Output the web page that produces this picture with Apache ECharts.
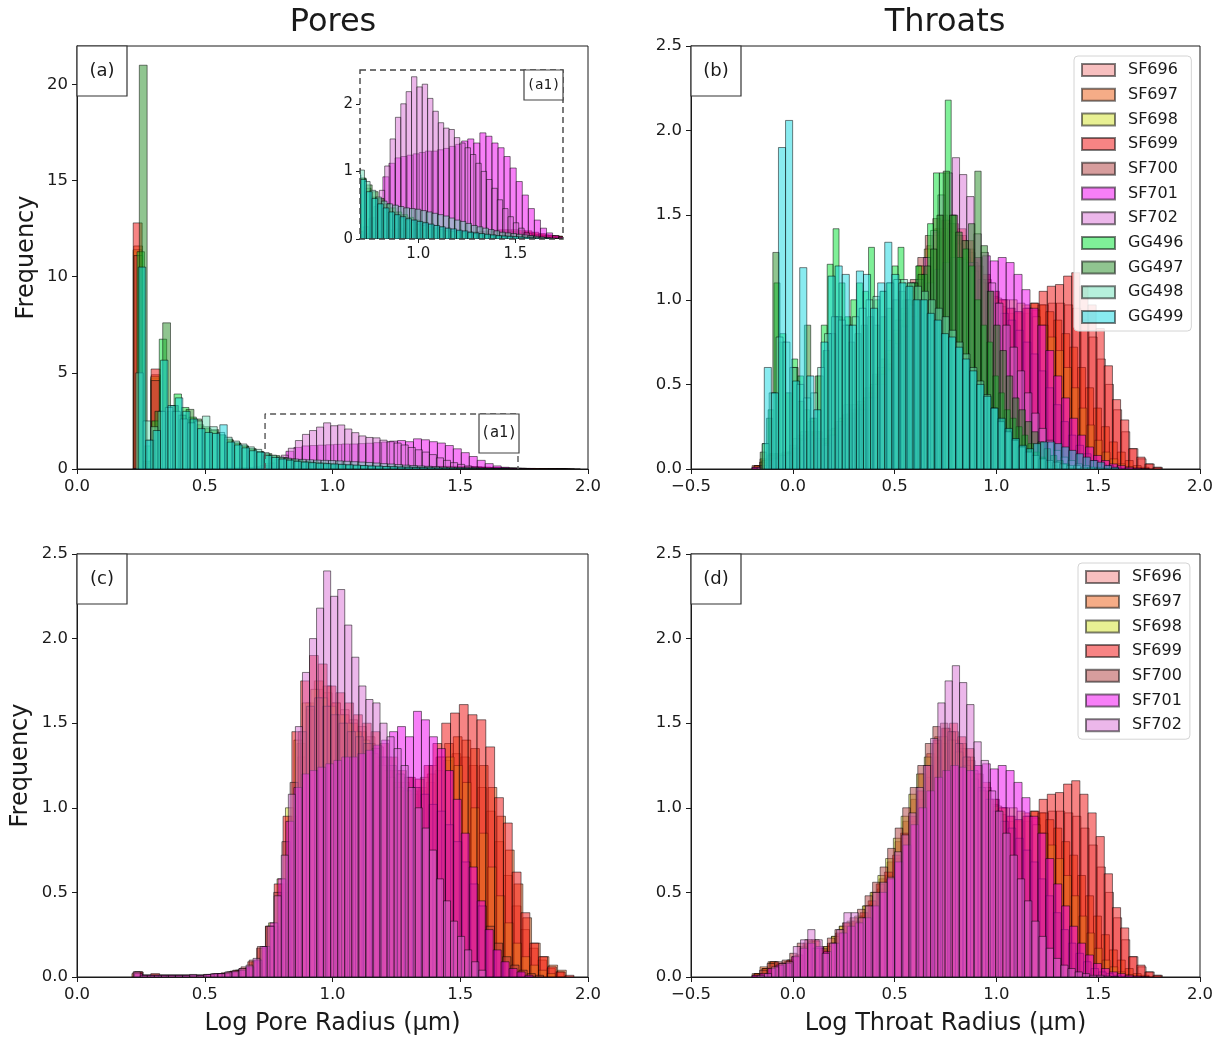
<!DOCTYPE html>
<html>
<head>
<meta charset="utf-8">
<title>Pore and throat radius distributions</title>
<script src="https://cdn.jsdelivr.net/npm/echarts@6/dist/echarts.min.js"></script>
<style>
  html, body { margin: 0; padding: 0; background: #fff; }
  #chart { width: 1225px; height: 1039px; }
</style>
</head>
<body>
<div id="chart"></div>
<script>
// ---------------- sample names ----------------
const sfNames = ['SF696', 'SF697', 'SF698', 'SF699', 'SF700', 'SF701', 'SF702'];
const ggNames = ['GG496', 'GG497', 'GG498', 'GG499'];
const allNames = sfNames.concat(ggNames);

// ---------------- tick labels ----------------
const poreTicks = [0.0, 0.5, 1.0, 1.5, 2.0];
const throatTicks = [-0.5, 0.0, 0.5, 1.0, 1.5, 2.0];
const insetTicks = [1.0, 1.5];

// ---------------- histogram bins (log radius, µm) ----------------
// first bin edge and bin width of each sample histogram
const poreStartSF = [0.225, 0.215, 0.222, 0.22, 0.226, 0.225, 0.22];
const poreWidthSF = [0.0336, 0.034, 0.033, 0.0345, 0.032, 0.0312, 0.0276];
const poreStartA = [0.221, 0.222, 0.22, 0.22, 0.223];          // SF696–SF700, all pores
const poreWidthA = [0.034, 0.0345, 0.0342, 0.035, 0.0338];
const poreStartGG = [0.235, 0.244, 0.23, 0.24];
const poreWidthGG = [0.029, 0.0305, 0.029, 0.029];
const throatStartSF = [-0.185, -0.2, -0.19, -0.19, -0.2, -0.2, -0.175];
const throatWidthSF = [0.04, 0.039, 0.038, 0.04, 0.037, 0.039, 0.0355];
const throatStartGG = [-0.15, -0.16, -0.15, -0.14];
const throatWidthGG = [0.029, 0.031, 0.034, 0.0348];

// ---------------- pore frequencies, all pores (panel a) ----------------
const poreA_SF696 = [11.3,0.4,4.7,0.03,0.02,0.02,0.02,0.02,0.02,0.02, 0.03,0.03,0.04,0.05,0.06,0.07,0.09,0.11,0.12,0.13, 0.14,0.14,0.14,0.13,0.13,0.12,0.12,0.11,0.11,0.1, 0.1,0.1,0.11,0.11,0.12,0.12,0.12,0.11,0.1,0.09, 0.07,0.06,0.05,0.04,0.03,0.02,0.01,0.01,0.005,0.002];
const poreA_SF697 = [11.6,0.4,4.9,0.03,0.02,0.02,0.02,0.02,0.02,0.02, 0.03,0.03,0.04,0.05,0.06,0.08,0.1,0.12,0.14,0.15, 0.15,0.15,0.14,0.14,0.13,0.13,0.12,0.12,0.11,0.11, 0.1,0.1,0.11,0.12,0.12,0.13,0.12,0.12,0.1,0.09, 0.07,0.06,0.05,0.04,0.03,0.02,0.01,0.01,0.005,0.002];
const poreA_SF698 = [11.4,0.3,4.8,0.03,0.02,0.02,0.02,0.02,0.02,0.02, 0.03,0.03,0.04,0.05,0.06,0.08,0.1,0.12,0.13,0.14, 0.15,0.14,0.14,0.13,0.13,0.12,0.12,0.11,0.11,0.1, 0.1,0.1,0.11,0.11,0.12,0.12,0.11,0.1,0.09,0.08, 0.07,0.05,0.04,0.03,0.02,0.02,0.01,0.01,0.005,0.002];
const poreA_SF699 = [12.8,0.3,5.2,0.03,0.02,0.02,0.02,0.02,0.02,0.02, 0.03,0.03,0.04,0.05,0.06,0.07,0.09,0.11,0.13,0.15, 0.16,0.16,0.15,0.15,0.14,0.14,0.13,0.12,0.12,0.11, 0.11,0.11,0.12,0.13,0.14,0.14,0.14,0.13,0.12,0.1, 0.08,0.06,0.05,0.04,0.03,0.02,0.01,0.01,0.005,0.002];
const poreA_SF700 = [11.1,0.4,4.6,0.03,0.02,0.02,0.02,0.02,0.02,0.02, 0.03,0.03,0.04,0.05,0.06,0.07,0.09,0.11,0.13,0.14, 0.14,0.14,0.13,0.13,0.12,0.12,0.11,0.11,0.1,0.1, 0.09,0.09,0.09,0.1,0.1,0.1,0.09,0.08,0.07,0.06, 0.05,0.04,0.03,0.02,0.02,0.01,0.01,0.005,0.002,0.001];
const poreA_GG496 = [11.3,1.2,2.5,6.75,3.0,3.9,3.2,2.7,2.3,2.1, 2.05,1.75,1.5,1.35,1.2,1.05,0.9,0.75,0.62,0.52, 0.45,0.4,0.35,0.31,0.28,0.25,0.22,0.2,0.18,0.16, 0.14,0.12,0.11,0.1,0.09,0.08,0.07,0.06,0.05,0.045, 0.04,0.035,0.03,0.025,0.02,0.018,0.015,0.012,0.01,0.008];
const poreA_GG497 = [21.0,1.5,3.0,7.6,3.3,2.8,3.1,2.6,2.2,2.0, 1.8,1.55,1.35,1.2,1.05,0.9,0.8,0.7,0.6,0.52, 0.46,0.4,0.36,0.32,0.28,0.25,0.22,0.2,0.18,0.16, 0.14,0.12,0.11,0.1,0.09,0.08,0.07,0.06,0.05,0.045, 0.04,0.035,0.03,0.025,0.02,0.018,0.015,0.012,0.01,0.008];
const poreA_GG498 = [5.0,2.5,2.2,3.0,3.2,3.0,2.6,2.4,2.5,2.75, 2.2,1.9,1.65,1.45,1.3,1.15,1.02,0.85,0.72,0.62, 0.56,0.52,0.5,0.48,0.46,0.45,0.44,0.42,0.4,0.38, 0.36,0.34,0.31,0.28,0.26,0.23,0.2,0.18,0.16,0.14, 0.12,0.1,0.09,0.08,0.07,0.06,0.05,0.04,0.03,0.02];
const poreA_GG499 = [10.5,1.5,2.0,5.66,3.3,3.7,3.0,2.6,2.1,1.9, 1.85,2.3,1.4,1.25,1.1,0.95,0.88,0.7,0.6,0.52, 0.46,0.4,0.36,0.33,0.3,0.28,0.26,0.24,0.22,0.2, 0.18,0.16,0.15,0.13,0.12,0.1,0.09,0.08,0.07,0.06, 0.05,0.045,0.04,0.035,0.03,0.025,0.02,0.015,0.012,0.01];

// ---------------- pore frequencies, SF samples (panels a and c) ----------------
const pore_SF696 = [0.03,0.01,0.01,0.01,0.01,0.01,0.01,0.01,0.01,0.015, 0.02,0.03,0.04,0.045,0.08,0.15,0.28,0.5,0.88,1.3, 1.58,1.7,1.68,1.62,1.58,1.52,1.48,1.42,1.36,1.3, 1.22,1.15,1.1,1.1,1.15,1.22,1.28,1.32,1.3,1.25, 1.12,0.98,0.8,0.6,0.42,0.28,0.17,0.1,0.05,0.03];
const pore_SF697 = [0.02,0.01,0.01,0.01,0.01,0.01,0.01,0.01,0.01,0.015, 0.02,0.03,0.04,0.05,0.09,0.16,0.3,0.55,0.95,1.38, 1.62,1.75,1.72,1.62,1.55,1.5,1.45,1.38,1.3,1.22, 1.15,1.1,1.08,1.12,1.2,1.3,1.38,1.42,1.4,1.35, 1.25,1.12,0.95,0.75,0.55,0.35,0.2,0.12,0.07,0.04];
const pore_SF698 = [0.02,0.01,0.01,0.01,0.01,0.01,0.01,0.01,0.01,0.015, 0.02,0.03,0.04,0.05,0.09,0.17,0.32,0.58,1.0,1.4, 1.62,1.7,1.65,1.6,1.55,1.5,1.45,1.4,1.32,1.25, 1.18,1.12,1.1,1.12,1.18,1.25,1.3,1.3,1.25,1.15, 1.0,0.85,0.65,0.48,0.32,0.2,0.12,0.07,0.04,0.02];
const pore_SF699 = [0.03,0.01,0.02,0.01,0.01,0.01,0.01,0.01,0.015,0.02, 0.025,0.035,0.05,0.09,0.17,0.3,0.55,0.95,1.45,1.75, 1.9,1.85,1.72,1.68,1.62,1.55,1.5,1.45,1.38,1.3, 1.22,1.18,1.17,1.25,1.38,1.5,1.56,1.61,1.55,1.52, 1.36,1.06,0.91,0.62,0.38,0.2,0.12,0.06,0.03,0.01];
const pore_SF700 = [0.03,0.01,0.01,0.01,0.01,0.01,0.01,0.01,0.01,0.015, 0.02,0.025,0.04,0.06,0.1,0.18,0.3,0.5,0.8,1.15, 1.45,1.6,1.65,1.6,1.55,1.5,1.45,1.42,1.38,1.35, 1.3,1.25,1.2,1.18,1.12,1.08,1.02,0.98,0.9,0.8, 0.68,0.55,0.42,0.3,0.2,0.12,0.07,0.04,0.02,0.01];
const pore_SF701 = [0.02,0.01,0.01,0.01,0.01,0.01,0.01,0.01,0.01,0.015, 0.02,0.02,0.03,0.04,0.06,0.1,0.18,0.32,0.58,0.92, 1.12,1.2,1.22,1.24,1.26,1.28,1.3,1.3,1.32,1.34, 1.37,1.4,1.45,1.48,1.42,1.57,1.52,1.42,1.35,1.22, 1.05,0.85,0.65,0.45,0.28,0.16,0.09,0.05,0.03,0.01];
const pore_SF702 = [0.03,0.01,0.01,0.01,0.01,0.01,0.01,0.01,0.015,0.01, 0.015,0.02,0.02,0.03,0.035,0.05,0.07,0.11,0.18,0.3, 0.48,0.72,1.08,1.48,1.8,2.0,2.18,2.4,2.25,2.29, 2.08,1.89,1.72,1.64,1.62,1.5,1.42,1.35,1.25,1.12, 1.0,0.88,0.75,0.58,0.45,0.33,0.24,0.16,0.09,0.04];

// ---------------- throat frequencies (panels b and d) ----------------
const throat_SF696 = [0.02,0.05,0.08,0.08,0.1,0.13,0.19,0.21,0.16,0.19, 0.25,0.3,0.32,0.36,0.43,0.52,0.6,0.7,0.82,0.92, 1.05,1.18,1.3,1.38,1.4,1.35,1.28,1.2,1.12,1.05, 1.0,0.95,0.92,0.92,0.94,0.97,0.98,0.98,0.97,0.95, 0.88,0.78,0.65,0.5,0.35,0.22,0.12,0.06,0.03,0.01];
const throat_SF697 = [0.02,0.06,0.09,0.07,0.09,0.12,0.18,0.22,0.17,0.18, 0.24,0.3,0.32,0.35,0.42,0.5,0.58,0.68,0.8,0.92, 1.05,1.2,1.32,1.42,1.47,1.45,1.38,1.3,1.2,1.1, 1.02,0.96,0.92,0.93,0.97,0.98,0.97,0.93,0.88,0.8, 0.72,0.6,0.48,0.36,0.25,0.16,0.1,0.05,0.02,0.01];
const throat_SF698 = [0.02,0.05,0.09,0.08,0.09,0.12,0.17,0.21,0.17,0.18, 0.24,0.3,0.33,0.36,0.42,0.5,0.6,0.7,0.82,0.95, 1.08,1.2,1.3,1.38,1.42,1.4,1.33,1.25,1.17,1.1, 1.05,1.01,1.0,1.0,0.98,0.95,0.9,0.85,0.78,0.7, 0.6,0.48,0.36,0.26,0.17,0.1,0.06,0.03,0.015,0.005];
const throat_SF699 = [0.02,0.05,0.09,0.08,0.1,0.13,0.2,0.22,0.16,0.2, 0.26,0.32,0.33,0.38,0.45,0.55,0.62,0.72,0.85,0.95, 1.1,1.25,1.4,1.47,1.5,1.42,1.35,1.25,1.15,1.05, 1.0,0.95,0.93,0.95,0.98,1.05,1.08,1.09,1.14,1.16, 1.08,0.97,0.83,0.61,0.41,0.29,0.12,0.07,0.03,0.01];
const throat_SF700 = [0.01,0.04,0.08,0.09,0.1,0.14,0.2,0.22,0.17,0.17, 0.23,0.28,0.32,0.35,0.4,0.48,0.56,0.65,0.76,0.88, 1.0,1.12,1.25,1.38,1.48,1.5,1.45,1.38,1.3,1.22, 1.12,1.05,0.98,0.92,0.88,0.82,0.75,0.68,0.58,0.48, 0.38,0.28,0.2,0.14,0.09,0.05,0.03,0.02,0.01,0.005];
const throat_SF701 = [0.01,0.02,0.05,0.07,0.08,0.12,0.17,0.2,0.18,0.15, 0.2,0.26,0.3,0.32,0.35,0.42,0.5,0.58,0.68,0.78, 0.9,1.0,1.1,1.18,1.22,1.25,1.24,1.22,1.25,1.26, 1.23,1.25,1.22,1.15,1.06,0.95,0.85,0.7,0.55,0.42, 0.3,0.2,0.13,0.08,0.05,0.03,0.02,0.01,0.005,0.002];
const throat_SF702 = [0.01,0.02,0.06,0.08,0.09,0.18,0.22,0.28,0.22,0.14, 0.2,0.28,0.38,0.38,0.35,0.42,0.5,0.56,0.59,0.74, 0.84,0.97,1.12,1.25,1.41,1.62,1.75,1.84,1.74,1.61, 1.39,1.28,1.1,0.98,0.85,0.72,0.58,0.45,0.33,0.24, 0.17,0.11,0.07,0.05,0.03,0.02,0.01,0.01,0.005,0.002];
const throat_GG496 = [0.15,0.35,1.1,0.8,0.45,0.65,0.55,0.35,0.3,0.55, 0.85,1.21,1.42,1.1,0.9,1.0,1.1,1.05,1.31,1.0, 1.05,1.1,1.2,1.31,1.1,1.1,1.2,1.15,1.45,1.75, 1.75,2.18,1.5,1.25,1.3,1.2,1.0,0.85,0.75,0.55, 0.45,0.35,0.3,0.25,0.2,0.15,0.1,0.07,0.04,0.02];
const throat_GG497 = [0.1,0.3,1.28,0.75,0.45,0.6,0.4,0.85,0.3,0.55, 0.7,0.8,0.9,0.85,0.75,0.8,0.85,0.9,0.85,0.9, 0.95,1.0,1.05,1.0,1.1,1.15,1.2,1.3,1.5,1.76, 1.5,1.4,1.35,1.45,1.76,1.32,1.05,0.85,0.7,0.55, 0.42,0.35,0.28,0.22,0.16,0.12,0.08,0.05,0.03,0.01];
const throat_GG498 = [0.15,0.45,0.78,0.75,0.6,0.5,0.42,0.45,0.6,0.8, 0.9,0.88,0.85,0.9,0.95,1.0,1.02,1.05,1.1,1.12, 1.12,1.1,1.08,1.05,1.0,0.95,0.9,0.82,0.75,0.68, 0.6,0.52,0.44,0.36,0.28,0.22,0.17,0.13,0.1,0.08, 0.06,0.05,0.04,0.03,0.02,0.02,0.01,0.01,0.005,0.002];
const throat_GG499 = [0.6,0.45,1.9,2.06,0.52,1.19,0.55,0.35,0.75,1.14, 1.2,1.15,0.85,1.17,1.15,0.95,1.1,1.34,1.15,1.1, 1.08,1.0,1.0,0.92,0.88,0.8,0.78,0.72,0.65,0.58, 0.5,0.43,0.36,0.3,0.24,0.18,0.14,0.12,0.15,0.16, 0.16,0.15,0.13,0.11,0.09,0.07,0.05,0.04,0.02,0.01];

// zoom window of the inset, in panel (a) data units: [x from, x to, frequency top]
const insetWindow = [0.736, 1.726, 2.86];

// ---------------- styling ----------------
const FONT = 'DejaVu Sans';
const INK = '#1a1a1a';
const EDGE = 'rgba(0,0,0,0.5)';
const sampleFill = {
  SF696: 'rgba(240,128,128,0.5)',
  SF697: 'rgba(235,90,15,0.5)',
  SF698: 'rgba(210,225,40,0.5)',
  SF699: 'rgba(240,10,10,0.5)',
  SF700: 'rgba(175,60,60,0.5)',
  SF701: 'rgba(240,0,240,0.5)',
  SF702: 'rgba(218,112,214,0.5)',
  GG496: 'rgba(0,225,50,0.5)',
  GG497: 'rgba(34,139,34,0.5)',
  GG498: 'rgba(110,225,185,0.5)',
  GG499: 'rgba(20,215,225,0.5)'
};

// one histogram drawn as edge-to-edge rectangles on a value axis
function histSeries(name, start, width, counts, axisIndex) {
  const data = counts.map((v, i) => [start + i * width, start + (i + 1) * width, v]);
  const fill = sampleFill[name];
  return {
    type: 'custom',
    name: name,
    xAxisIndex: axisIndex,
    yAxisIndex: axisIndex,
    clip: true,
    silent: true,
    itemStyle: { color: fill, borderColor: EDGE, borderWidth: 1 },
    encode: { x: [0, 1], y: 2 },
    data: data,
    renderItem: function (params, api) {
      const top = api.coord([api.value(0), api.value(2)]);
      const base = api.coord([api.value(1), 0]);
      return {
        type: 'rect',
        shape: { x: top[0], y: top[1], width: base[0] - top[0], height: base[1] - top[1] },
        style: { fill: fill, stroke: EDGE, lineWidth: 1 }
      };
    }
  };
}

const poreA_SF = [poreA_SF696, poreA_SF697, poreA_SF698, poreA_SF699, poreA_SF700];
const pore_SF = [pore_SF696, pore_SF697, pore_SF698, pore_SF699, pore_SF700, pore_SF701, pore_SF702];
const poreA_GG = [poreA_GG496, poreA_GG497, poreA_GG498, poreA_GG499];
const throat_SF = [throat_SF696, throat_SF697, throat_SF698, throat_SF699, throat_SF700, throat_SF701, throat_SF702];
const throat_GG = [throat_GG496, throat_GG497, throat_GG498, throat_GG499];

function allPoresSeries(axisIndex) {
  const out = [];
  sfNames.forEach((n, i) => {
    if (i < 5) out.push(histSeries(n, poreStartA[i], poreWidthA[i], poreA_SF[i], axisIndex));
    else out.push(histSeries(n, poreStartSF[i], poreWidthSF[i], pore_SF[i], axisIndex));
  });
  ggNames.forEach((n, i) => out.push(histSeries(n, poreStartGG[i], poreWidthGG[i], poreA_GG[i], axisIndex)));
  return out;
}

const series = [];
// (a) all pores, and the inset zoom of the same histograms
series.push(...allPoresSeries(0));
series.push(...allPoresSeries(4));
// (b) all throats
sfNames.forEach((n, i) => series.push(histSeries(n, throatStartSF[i], throatWidthSF[i], throat_SF[i], 1)));
ggNames.forEach((n, i) => series.push(histSeries(n, throatStartGG[i], throatWidthGG[i], throat_GG[i], 1)));
// (c) SF pores
sfNames.forEach((n, i) => series.push(histSeries(n, poreStartSF[i], poreWidthSF[i], pore_SF[i], 2)));
// (d) SF throats
sfNames.forEach((n, i) => series.push(histSeries(n, throatStartSF[i], throatWidthSF[i], throat_SF[i], 3)));
// dashed zoom window in (a)
series.push({
  type: 'line',
  xAxisIndex: 0, yAxisIndex: 0,
  silent: true, symbol: 'none', z: 5,
  lineStyle: { color: '#555', width: 1.4, type: [6, 4] },
  data: [[insetWindow[0], 0], [insetWindow[0], insetWindow[2]], [insetWindow[1], insetWindow[2]], [insetWindow[1], 0]]
});

const tickLabel = { color: INK, fontFamily: FONT, fontSize: 16.5 };
const minus = v => String(v).replace('-', '\u2212');

function xAxis(grid, min, max, name) {
  return {
    type: 'value', gridIndex: grid, min: min, max: max, interval: 0.5,
    axisLine: { show: true, onZero: false, lineStyle: { color: INK, width: 1 } },
    axisTick: { show: true, length: 5, lineStyle: { color: INK } },
    splitLine: { show: false },
    axisLabel: Object.assign({ margin: 9, formatter: v => minus(v.toFixed(1)) }, tickLabel),
    name: name || '', nameLocation: 'middle', nameGap: 35,
    nameTextStyle: { color: INK, fontFamily: FONT, fontSize: 24 }
  };
}
function yAxis(grid, max, interval, digits, name, gap) {
  return {
    type: 'value', gridIndex: grid, min: 0, max: max, interval: interval,
    axisLine: { show: true, onZero: false, lineStyle: { color: INK, width: 1 } },
    axisTick: { show: true, length: 5, lineStyle: { color: INK } },
    splitLine: { show: false },
    axisLabel: Object.assign({ margin: 9, showMaxLabel: max % interval === 0, formatter: v => v.toFixed(digits) }, tickLabel),
    name: name || '', nameLocation: 'middle', nameGap: gap || 30,
    nameTextStyle: { color: INK, fontFamily: FONT, fontSize: 24 }
  };
}

const gridBox = { show: true, borderColor: INK, borderWidth: 1, backgroundColor: 'transparent' };

function legendBox(names, left, top) {
  return {
    data: names, left: left, top: top, orient: 'vertical',
    icon: 'rect', itemWidth: 33, itemHeight: 12, itemGap: 8.7,
    selectedMode: false,
    textStyle: { color: INK, fontFamily: FONT, fontSize: 16, padding: [0, 0, 0, 8] },
    backgroundColor: 'rgba(255,255,255,0.85)', borderColor: '#d4d4d4', borderWidth: 1, borderRadius: 4,
    padding: [6, 8, 6, 7]
  };
}

function panelTag(text, x, y) {
  return [
    { type: 'rect', z: 100, shape: { x: x, y: y, width: 50, height: 50 }, style: { fill: '#fff', stroke: '#333', lineWidth: 1.2 } },
    { type: 'text', z: 101, x: x + 25, y: y + 25, style: { text: text, fill: INK, font: '18px "DejaVu Sans"', textAlign: 'center', textVerticalAlign: 'middle' } }
  ];
}

const option = {
  backgroundColor: '#fff',
  animation: false,
  grid: [
    Object.assign({ left: 77, top: 46, width: 511, height: 423 }, gridBox),
    Object.assign({ left: 691, top: 46, width: 509, height: 423 }, gridBox),
    Object.assign({ left: 77, top: 554, width: 511, height: 423 }, gridBox),
    Object.assign({ left: 691, top: 554, width: 509, height: 423 }, gridBox),
    { left: 360, top: 70, width: 203, height: 169, show: false }
  ],
  xAxis: [
    xAxis(0, poreTicks[0], poreTicks[poreTicks.length - 1]),
    xAxis(1, throatTicks[0], throatTicks[throatTicks.length - 1]),
    xAxis(2, poreTicks[0], poreTicks[poreTicks.length - 1], 'Log Pore Radius (\u00b5m)'),
    xAxis(3, throatTicks[0], throatTicks[throatTicks.length - 1], 'Log Throat Radius (\u00b5m)'),
    {
      type: 'value', gridIndex: 4, min: 0.70, max: 1.745,
      axisLine: { show: false, onZero: false },
      axisTick: { show: true, length: 4, customValues: insetTicks, lineStyle: { color: INK } },
      splitLine: { show: false },
      axisLabel: { customValues: insetTicks, margin: 8, color: INK, fontFamily: FONT, fontSize: 15, formatter: v => v.toFixed(1) }
    }
  ],
  yAxis: [
    yAxis(0, 22, 5, 0, 'Frequency', 38),
    yAxis(1, 2.5, 0.5, 1),
    yAxis(2, 2.5, 0.5, 1, 'Frequency', 44),
    yAxis(3, 2.5, 0.5, 1),
    {
      type: 'value', gridIndex: 4, min: 0, max: 2.5, interval: 1,
      axisLine: { show: false, onZero: false },
      axisTick: { show: true, length: 4, lineStyle: { color: INK } },
      splitLine: { show: false },
      axisLabel: { margin: 7, color: INK, fontFamily: FONT, fontSize: 15, showMaxLabel: false, formatter: v => v.toFixed(0) }
    }
  ],
  legend: [legendBox(allNames, 1074, 56), legendBox(sfNames, 1078, 563)],
  series: series,
  graphic: [
    { type: 'text', z: 100, x: 333, y: 23, style: { text: 'Pores', fill: INK, font: '32px "DejaVu Sans"', textAlign: 'center', textVerticalAlign: 'middle' } },
    { type: 'text', z: 100, x: 945, y: 23, style: { text: 'Throats', fill: INK, font: '32px "DejaVu Sans"', textAlign: 'center', textVerticalAlign: 'middle' } },
    ...panelTag('(a)', 77, 46),
    ...panelTag('(b)', 691, 46),
    ...panelTag('(c)', 77, 554),
    ...panelTag('(d)', 691, 554),
    // inset frame and its tag
    { type: 'rect', z: 100, shape: { x: 360, y: 70, width: 203, height: 169 }, style: { fill: 'none', stroke: '#444', lineWidth: 1.4, lineDash: [6, 4] } },
    { type: 'rect', z: 100, shape: { x: 524, y: 70, width: 39, height: 30 }, style: { fill: '#fff', stroke: '#444', lineWidth: 1.2 } },
    { type: 'text', z: 101, x: 543.5, y: 85, style: { text: '(a1)', fill: INK, font: '14px "DejaVu Sans Mono"', textAlign: 'center', textVerticalAlign: 'middle' } },
    // tag of the zoom window in (a)
    { type: 'rect', z: 100, shape: { x: 479, y: 414, width: 40, height: 39 }, style: { fill: '#fff', stroke: '#444', lineWidth: 1.2 } },
    { type: 'text', z: 101, x: 499, y: 433.5, style: { text: '(a1)', fill: INK, font: '15px "DejaVu Sans Mono"', textAlign: 'center', textVerticalAlign: 'middle' } }
  ]
};

const chart = echarts.init(document.getElementById('chart'), null, { renderer: 'canvas' });
chart.setOption(option);
</script>
</body>
</html>
